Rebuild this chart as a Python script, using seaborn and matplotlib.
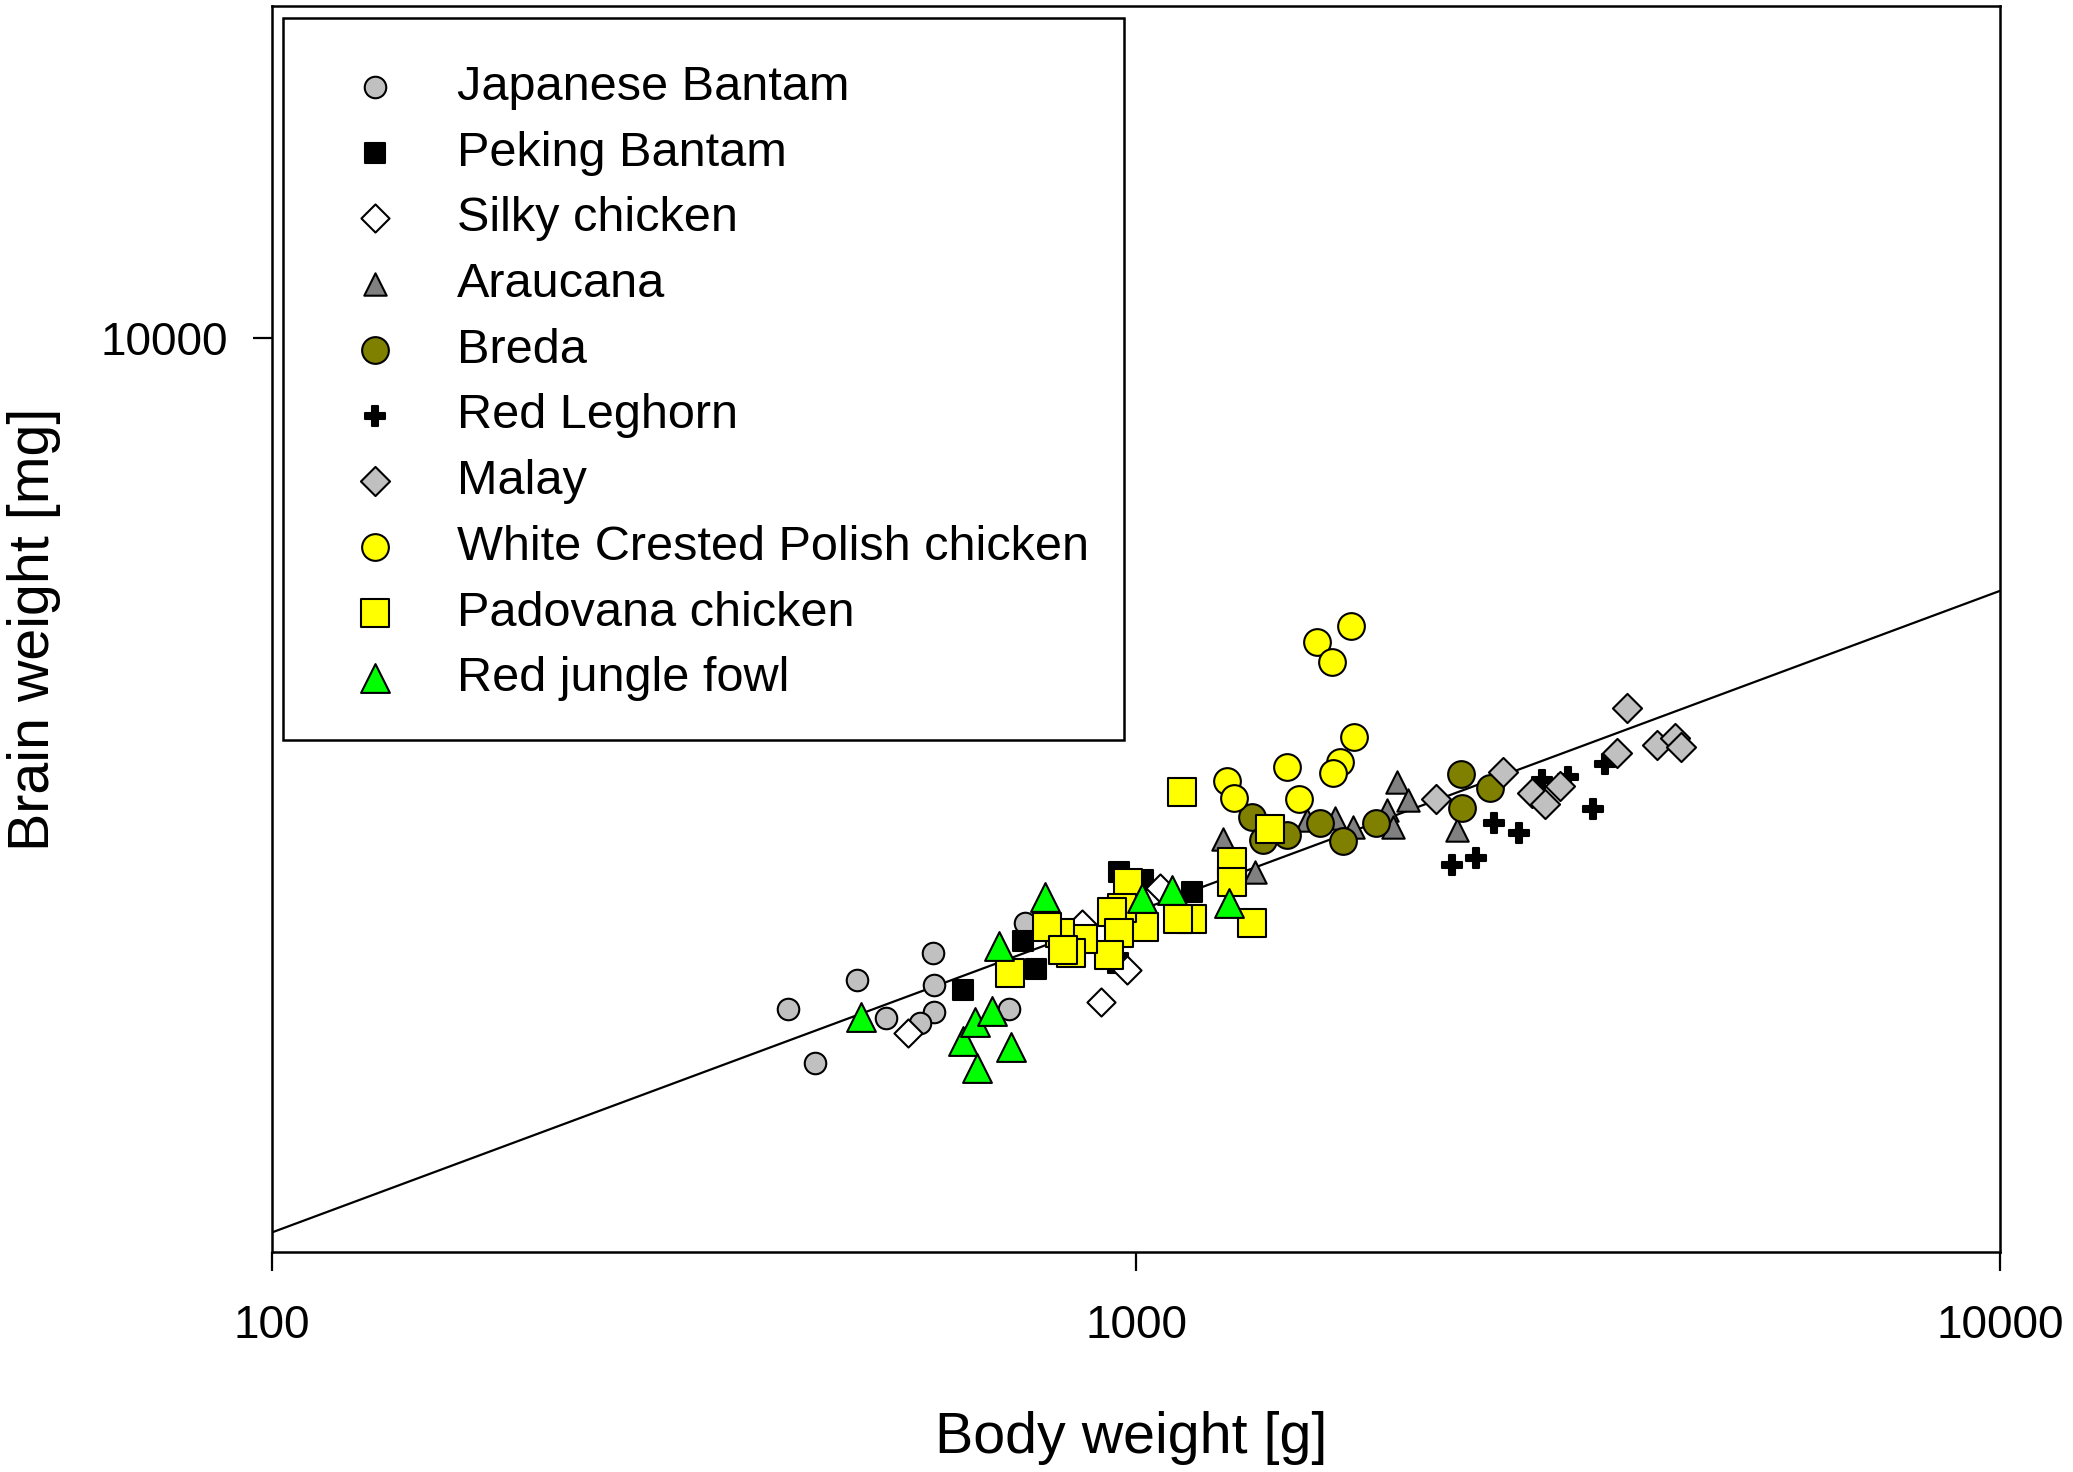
import matplotlib
matplotlib.use('Agg')
import matplotlib.pyplot as plt
import matplotlib.ticker as mticker
from matplotlib.patches import Rectangle
import seaborn as sns

# body weight [g] and brain weight [mg] per breed
jb_body = [396, 425, 475, 514, 582, 584, 584, 562, 713, 744]
jb_brain = [1564, 1348, 1697, 1526, 1827, 1672, 1554, 1508, 1564, 1985]

pb_body = [630, 740, 766, 956, 1020, 1160, 953]
pb_brain = [1651, 1891, 1749, 2288, 2236, 2165, 1778]

silky_body = [545, 910, 976, 865, 1066]
silky_brain = [1464, 1598, 1744, 1981, 2185]

arau_body = [1260, 1373, 2003, 2066, 1951, 1985, 1576, 1699, 1785, 2350]
arau_brain = [2502, 2288, 2934, 2790, 2714, 2592, 2640, 2652, 2592, 2568]

breda_body = [1361, 1404, 1494, 1633, 1735, 1896, 2375, 2569, 2382]
breda_brain = [2665, 2497, 2532, 2616, 2490, 2620, 2995, 2881, 2727]

leg_body = [2319, 2475, 2596, 2776, 2949, 3165, 3378, 3490]
leg_brain = [2331, 2374, 2620, 2548, 2948, 2975, 2719, 3082]

malay_body = [2225, 2657, 2871, 2975, 3096, 3698, 3601, 4012, 4206, 4271]
malay_brain = [2795, 3017, 2841, 2759, 2900, 3593, 3174, 3247, 3308, 3232]

polish_body = [1772, 1621, 1685, 1788, 1722, 1692, 1494, 1545, 1276, 1298]
polish_brain = [4510, 4319, 4087, 3317, 3101, 3003, 3053, 2795, 2942, 2803]

pado_body = [1129, 1429, 1291, 1291, 1361, 1162, 1119, 1022, 980, 963,
             937, 956, 931, 869, 817, 840, 788, 715, 823]
pado_brain = [2854, 2573, 2350, 2224, 1988, 2006, 2006, 1966, 2216, 2068,
              2049, 1933, 1818, 1898, 1933, 1827, 1966, 1728, 1843]

rjf_body = [481, 630, 651, 655, 681, 695, 716, 785, 1015, 1100, 1282]
rjf_brain = [1533, 1435, 1512, 1329, 1559, 1864, 1409, 2132, 2126, 2175, 2101]

# regression line end points
fit_body = [100, 10000]
fit_brain = [845, 4970]

series = [
    ('Japanese Bantam', jb_body, jb_brain, 'o', '#c0c0c0', 240),
    ('Peking Bantam', pb_body, pb_brain, 's', 'black', 200),
    ('Silky chicken', silky_body, silky_brain, 'D', 'white', 205),
    ('Araucana', arau_body, arau_brain, '^', '#808080', 260),
    ('Breda', breda_body, breda_brain, 'o', '#808000', 370),
    ('Red Leghorn', leg_body, leg_brain, 'P', 'black', 200),
    ('Malay', malay_body, malay_brain, 'D', '#c0c0c0', 220),
    ('White Crested Polish chicken', polish_body, polish_brain, 'o', '#ffff00', 370),
    ('Padovana chicken', pado_body, pado_brain, 's', '#ffff00', 400),
    ('Red jungle fowl', rjf_body, rjf_brain, '^', '#00ff00', 430),
]

sns.set_theme(style='ticks')
plt.rcParams['font.family'] = ['Liberation Sans', 'DejaVu Sans']
plt.rcParams.update({'text.color': 'black', 'axes.labelcolor': 'black',
                     'xtick.color': 'black', 'ytick.color': 'black'})

fig = plt.figure(figsize=(20.73, 14.72), dpi=100)
ax = fig.add_axes([0.1312, 0.1493, 0.8336, 0.8467])

sns.lineplot(x=fit_body, y=fit_brain, ax=ax, color='black', linewidth=1.6, zorder=1)

for i, (name, bx, by, mk, col, sz) in enumerate(series):
    sns.scatterplot(x=bx, y=by, ax=ax, marker=mk, color=col, s=sz,
                    edgecolor='black', linewidth=1.5, label=name, zorder=2 + i)

ax.set_xscale('log')
ax.set_yscale('log')
ax.set_xlim(100, 10000)
ax.set_ylim(800, 25000)

ax.xaxis.set_major_locator(mticker.FixedLocator([100, 1000, 10000]))
ax.xaxis.set_major_formatter(mticker.FixedFormatter(['100', '1000', '10000']))
ax.yaxis.set_major_locator(mticker.FixedLocator([10000]))
ax.yaxis.set_major_formatter(mticker.FixedFormatter(['10000']))
ax.xaxis.set_minor_locator(mticker.NullLocator())
ax.yaxis.set_minor_locator(mticker.NullLocator())

ax.tick_params(axis='x', direction='out', length=13.5, width=1.6, labelsize=33, pad=24)
ax.tick_params(axis='y', direction='out', length=14, width=1.6, labelsize=33, pad=18)
for sp in ax.spines.values():
    sp.set_visible(True)
    sp.set_linewidth(1.8)
    sp.set_color('black')

ax.set_xlabel('Body weight [g]', fontsize=41.3)
ax.set_ylabel('Brain weight [mg]', fontsize=41.3)
ax.xaxis.set_label_coords(0.497, -0.127)
ax.yaxis.set_label_coords(-0.122, 0.5)

# legend entries without their own frame; the box is drawn separately
leg = ax.legend(loc='upper left', bbox_to_anchor=(0.02905, 0.9527), borderaxespad=0,
                frameon=False, fontsize=35, borderpad=0, handlelength=2.19,
                handletextpad=0.586, labelspacing=0.426, scatterpoints=1,
                labelcolor='black')
ax.add_patch(Rectangle((0.00654, 0.4111), 0.4865, 0.5793, transform=ax.transAxes,
                       fill=False, edgecolor='black', linewidth=1.8, zorder=20))

fig.savefig('out.png', dpi=100)
